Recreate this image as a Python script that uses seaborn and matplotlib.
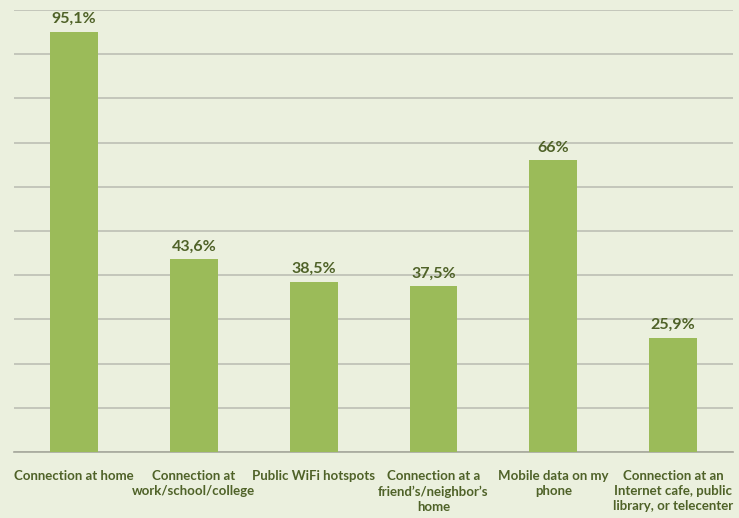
import pandas as pd
import seaborn as sns
import matplotlib.pyplot as plt

# Data
categories = [
    'Connection at home',
    'Connection at\nwork/school/college',
    'Public WiFi hotspots',
    "Connection at a\nfriend\u2019s/neighbor\u2019s\nhome",
    'Mobile data on my\nphone',
    'Connection at an\nInternet cafe, public\nlibrary, or telecenter',
]
values = [95.1, 43.6, 38.5, 37.5, 66.0, 25.9]
value_labels = ['95,1%', '43,6%', '38,5%', '37,5%', '66%', '25,9%']

bg = '#EBF0DE'
bar_color = '#9BBB59'
text_color = '#4F6228'

sns.set_theme(style='white')
plt.rcParams['font.family'] = ['Lato', 'DejaVu Sans']

df = pd.DataFrame({'category': categories, 'value': values})

fig = plt.figure(figsize=(7.39, 5.18), dpi=100, facecolor=bg)
ax = fig.add_axes([0.019, 0.1274, 0.973, 0.8533])
ax.set_facecolor(bg)

sns.barplot(data=df, x='category', y='value', color=bar_color, width=0.4,
            saturation=1, linewidth=0, ax=ax, zorder=3)

ax.set_ylim(0, 100)
ax.set_xlim(-0.5, len(categories) - 0.5)
ax.set_yticks(range(0, 101, 10))
ax.set_yticklabels([])
ax.yaxis.grid(True, color='#BDBFB4', linewidth=1.2, zorder=0)
ax.tick_params(axis='y', length=0)

for s in ['top', 'right', 'left']:
    ax.spines[s].set_visible(False)
ax.spines['bottom'].set_color('#A6A89C')
ax.spines['bottom'].set_linewidth(1.2)

# category boundary ticks
ax.set_xticks([i - 0.5 for i in range(len(categories) + 1)], minor=True)
ax.tick_params(axis='x', which='minor', length=5, color='#A6A89C', width=1)
ax.tick_params(axis='x', which='major', length=0, pad=13)
ax.set_xticklabels(categories, fontsize=9.5, fontweight='bold', color=text_color,
                   linespacing=1.3, va='top')
ax.set_xlabel('')
ax.set_ylabel('')

for i, (v, lab) in enumerate(zip(values, value_labels)):
    ax.annotate(lab, (i, v), xytext=(0, 4), textcoords='offset points',
                ha='center', va='bottom', fontsize=11.5, fontweight='bold',
                color=text_color)

fig.savefig('out.png', dpi=100, facecolor=bg)
